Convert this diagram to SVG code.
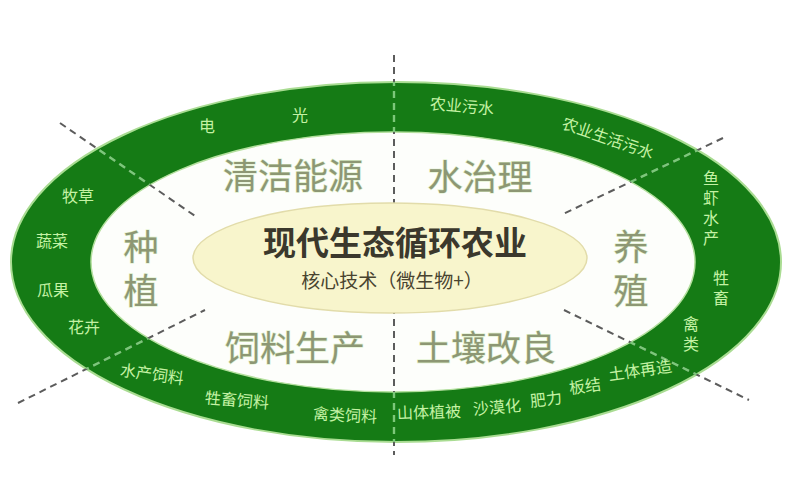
<svg xmlns="http://www.w3.org/2000/svg" width="796" height="500" viewBox="0 0 796 500">
  <style>
    .band { font-family: "Noto Sans CJK SC", "Noto Sans", sans-serif; font-size: 16px; fill: #c4f2a4; text-anchor: middle; }
    .vband { font-family: "Noto Sans CJK SC", "Noto Sans", sans-serif; font-size: 16px; fill: #c4f2a4; text-anchor: start; writing-mode: vertical-rl; letter-spacing: 4px; }
    .quad { font-family: "Noto Sans CJK SC", "Noto Sans", sans-serif; font-size: 35px; fill: #8d9774; text-anchor: middle; stroke: #dcefc8; stroke-width: 1.2px; paint-order: stroke; }
    .vquad { font-family: "Noto Sans CJK SC", "Noto Sans", sans-serif; font-size: 35px; fill: #8d9774; text-anchor: start; writing-mode: vertical-rl; letter-spacing: 9px; stroke: #dcefc8; stroke-width: 1.2px; paint-order: stroke; }
    .title { font-family: "Noto Sans CJK SC", "Noto Sans", sans-serif; font-size: 33px; font-weight: 700; fill: #3b382c; text-anchor: middle; }
    .sub { font-family: "Noto Sans CJK SC", "Noto Sans", sans-serif; font-size: 19px; fill: #48432f; text-anchor: middle; }
    .dash { fill: none; stroke: #5c5c5c; stroke-width: 2; stroke-dasharray: 7 5; }
    .dashband { fill: none; stroke: #7cc87a; stroke-width: 2.4; stroke-dasharray: 7 5; }
  </style>
  <defs>
    <clipPath id="ringClip">
      <path clip-rule="evenodd" d="M11,262 a385,180 0 1,0 770,0 a385,180 0 1,0 -770,0 Z M91,262 a302,130 0 1,0 604,0 a302,130 0 1,0 -604,0 Z"/>
    </clipPath>
  </defs>
  <rect x="0" y="0" width="796" height="500" fill="#ffffff"/>

  <g id="ring">
    <ellipse cx="396" cy="262" rx="385" ry="180" fill="#157b15" stroke="#a9dc92" stroke-width="2"/>
    <ellipse cx="393" cy="262" rx="302" ry="130" fill="#fdfefb" stroke="#b4e09e" stroke-width="1.5"/>
  </g>

  <g id="connectors">
    <line class="dash" x1="394" y1="55" x2="394" y2="455"/>
    <line class="dash" x1="60" y1="123" x2="198" y2="218"/>
    <line class="dash" x1="723" y1="138" x2="561" y2="215"/>
    <line class="dash" x1="18" y1="403" x2="205" y2="310"/>
    <line class="dash" x1="564" y1="310" x2="749" y2="400"/>
    <g clip-path="url(#ringClip)">
      <line class="dashband" x1="394" y1="55" x2="394" y2="455"/>
      <line class="dashband" x1="60" y1="123" x2="198" y2="218"/>
      <line class="dashband" x1="723" y1="138" x2="561" y2="215"/>
      <line class="dashband" x1="18" y1="403" x2="205" y2="310"/>
      <line class="dashband" x1="564" y1="310" x2="749" y2="400"/>
    </g>
  </g>

  <g id="core">
    <ellipse cx="390" cy="258" rx="197" ry="55" fill="#f8f5cc" stroke="#e2dcaa" stroke-width="1.5"/>
    <text class="title" x="395" y="255">现代生态循环农业</text>
    <text class="sub" x="392" y="288">核心技术（微生物+）</text>
  </g>

  <g id="clean-energy">
    <text class="quad" x="293" y="189">清洁能源</text>
    <text class="band" x="207" y="132">电</text>
    <text class="band" x="300" y="121">光</text>
  </g>

  <g id="water">
    <text class="quad" x="480" y="190">水治理</text>
    <text class="band" x="462" y="112" transform="rotate(5 462 106)">农业污水</text>
    <text class="band" x="608" y="144" transform="rotate(19 608 138)">农业生活污水</text>
  </g>

  <g id="planting">
    <text class="vquad" x="141" y="229">种植</text>
    <text class="band" x="78" y="202">牧草</text>
    <text class="band" x="52" y="247">蔬菜</text>
    <text class="band" x="53" y="296">瓜果</text>
    <text class="band" x="84" y="333">花卉</text>
  </g>

  <g id="breeding">
    <text class="vquad" x="631" y="229">养殖</text>
    <text class="vband" x="711" y="170">鱼虾水产</text>
    <text class="vband" x="721" y="270">牲畜</text>
    <text class="vband" x="691" y="316">禽类</text>
  </g>

  <g id="feed">
    <text class="quad" x="295" y="361">饲料生产</text>
    <text class="band" x="152" y="380" transform="rotate(8 152 374)">水产饲料</text>
    <text class="band" x="237" y="406" transform="rotate(5 237 400)">牲畜饲料</text>
    <text class="band" x="345" y="421" transform="rotate(3 345 415)">禽类饲料</text>
  </g>

  <g id="soil">
    <text class="quad" x="486" y="361">土壤改良</text>
    <text class="band" x="429" y="418" transform="rotate(-2 429 412)">山体植被</text>
    <text class="band" x="497" y="413" transform="rotate(-5 497 407)">沙漠化</text>
    <text class="band" x="546" y="405" transform="rotate(-7 546 399)">肥力</text>
    <text class="band" x="585" y="392" transform="rotate(-8 585 386)">板结</text>
    <text class="band" x="640" y="376" transform="rotate(-8 640 370)">土体再造</text>
  </g>
</svg>
